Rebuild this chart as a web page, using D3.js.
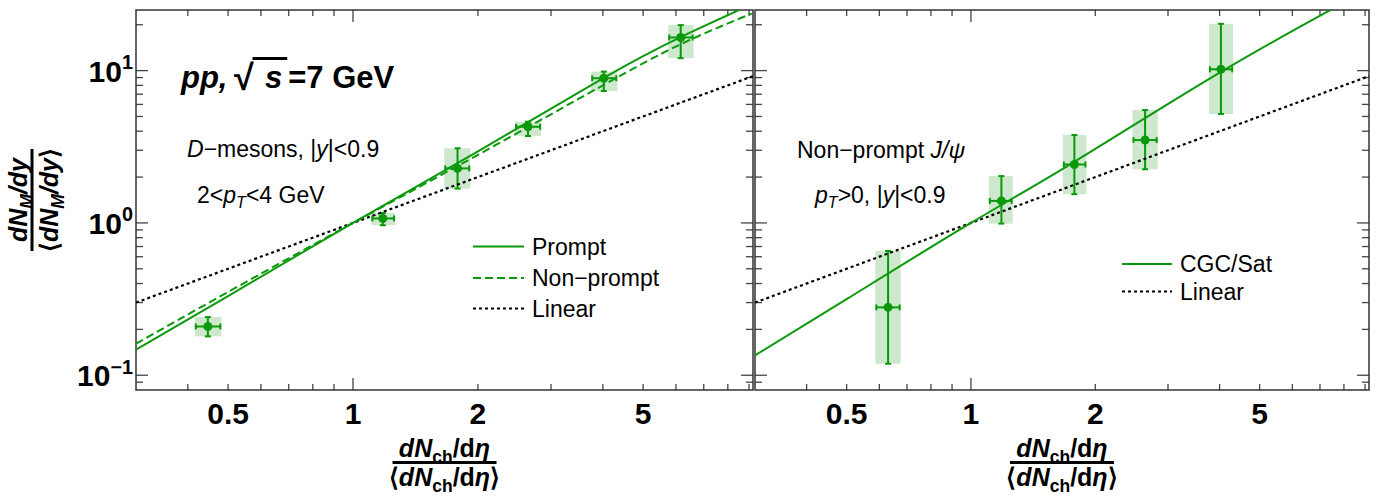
<!DOCTYPE html>
<html><head><meta charset="utf-8">
<script src="https://cdn.jsdelivr.net/npm/d3@7"></script>
<style>
body{margin:0;background:#fff}
text{font-family:"Liberation Sans",Arial,Helvetica,sans-serif;white-space:pre}
</style>
</head><body>
<svg id="c" width="1377" height="497"></svg>
<script>
// ---------- data ----------
const xDomain = [0.3, 9.2];
const yDomain = [0.08, 25];
const xTickLabels = [0.5, 1, 2, 5];
const yTickLabels = [0.1, 1, 10];

// Left panel: D-mesons
const dX    = [0.447, 1.18, 1.786, 2.64, 4.02, 6.16];
const dY    = [0.209, 1.07, 2.28, 4.28, 8.91, 16.5];
const dXlo  = [0.418, 1.113, 1.668, 2.47, 3.77, 5.78];
const dXhi  = [0.479, 1.256, 1.906, 2.825, 4.31, 6.58];
const dYlo  = [0.180, 0.966, 1.68, 3.72, 7.35, 12.07];
const dYhi  = [0.241, 1.164, 3.09, 4.62, 9.85, 19.9];

// Right panel: non-prompt J/psi
const jX    = [0.63, 1.185, 1.78, 2.64, 4.03];
const jY    = [0.279, 1.395, 2.42, 3.50, 10.2];
const jXlo  = [0.590, 1.111, 1.678, 2.475, 3.79];
const jXhi  = [0.672, 1.255, 1.893, 2.817, 4.29];
const jYlo  = [0.119, 0.99, 1.545, 2.25, 5.19];
const jYhi  = [0.654, 2.03, 3.78, 5.51, 20.3];

// Model curves
const promptX    = [0.3, 0.5, 1, 2, 4, 6.16, 9.2];
const promptY    = [0.147, 0.331, 1, 2.95, 8.9, 16.6, 27.5];
const nonpromptX = [0.3, 0.5, 1, 2, 4, 6.16, 9.2];
const nonpromptY = [0.161, 0.352, 1, 2.8, 8.0, 14.9, 23.9];
const cgcX       = [0.3, 0.5, 1, 1.78, 4.03, 7.64, 9.2];
const cgcY       = [0.135, 0.316, 1, 2.52, 9.8, 26.1, 34.7];
const linearX    = [0.3, 9.2];
const linearY    = [0.3, 9.2];

// ---------- drawing ----------
const GREEN = "#0a990a";
const BOX = "#cde8cd";
const svg = d3.select("#c");
const PT = 10, PB = 390;

function rich(sel, x, y, segs, base, anchor) {
  const t = sel.append("text").attr("x", x).attr("y", y)
    .attr("font-size", base).attr("text-anchor", anchor || "start");
  let cur = 0;
  segs.forEach(s => {
    const ts = t.append("tspan").text(s.t);
    if (s.i) ts.attr("font-style", "italic");
    if (s.b) ts.attr("font-weight", "bold");
    if (s.s) ts.attr("font-size", base * s.s);
    const sh = (s.sh || 0) * base;
    const dy = sh - cur;
    if (dy) ts.attr("dy", dy);
    cur = sh;
  });
  return t;
}

function panel(x0, x1, id, showY) {
  const x = d3.scaleLog().domain(xDomain).range([x0, x1]);
  const y = d3.scaleLog().domain(yDomain).range([PB, PT]);
  const g = svg.append("g");
  g.append("clipPath").attr("id", id).append("rect")
    .attr("x", x0).attr("y", PT).attr("width", x1 - x0).attr("height", PB - PT);

  const tk = g.append("g").attr("stroke", "#444").attr("stroke-width", 1.3);
  const xt = [];
  for (let d = 0.1; d <= 10; d *= 10) for (let k = 1; k <= 9; k++) {
    const v = +(k * d).toPrecision(3);
    if (v > xDomain[0] && v < xDomain[1]) xt.push([v, k === 1]);
  }
  xt.forEach(([v, maj]) => {
    const L = maj ? 12 : 6, px = x(v);
    tk.append("line").attr("x1", px).attr("x2", px).attr("y1", PB).attr("y2", PB - L);
    tk.append("line").attr("x1", px).attr("x2", px).attr("y1", PT).attr("y2", PT + L);
  });
  const yt = [];
  for (let d = 0.01; d <= 10; d *= 10) for (let k = 1; k <= 9; k++) {
    const v = +(k * d).toPrecision(3);
    if (v > yDomain[0] && v < yDomain[1]) yt.push([v, k === 1]);
  }
  yt.forEach(([v, maj]) => {
    const L = maj ? 12 : 7, py = y(v);
    tk.append("line").attr("x1", x0).attr("x2", x0 + L).attr("y1", py).attr("y2", py);
    tk.append("line").attr("x1", x1).attr("x2", x1 - L).attr("y1", py).attr("y2", py);
  });

  g.append("rect").attr("x", x0).attr("y", PT).attr("width", x1 - x0).attr("height", PB - PT)
    .attr("fill", "none").attr("stroke", "#333").attr("stroke-width", 1.5);

  xTickLabels.forEach(v => {
    g.append("text").attr("x", x(v)).attr("y", 424).attr("text-anchor", "middle")
      .attr("font-size", 30).attr("font-weight", "bold").text(v);
  });
  if (showY) {
    yTickLabels.forEach(v => {
      const e = Math.round(Math.log10(v));
      rich(g, 133, y(v) + 11, [
        {t: "10", b: true},
        {t: e < 0 ? "\u2212" + (-e) : "" + e, b: true, s: 0.66, sh: -0.42}
      ], 30, "end");
    });
  }
  return {x, y, g};
}

function curve(p, xs, ys, color, dash, id, w) {
  const line = d3.line().x(d => p.x(d[0])).y(d => p.y(d[1])).curve(d3.curveNatural);
  p.g.append("path").attr("d", line(xs.map((v, i) => [v, ys[i]])))
    .attr("fill", "none").attr("stroke", color).attr("stroke-width", w || 2)
    .attr("stroke-dasharray", dash).attr("clip-path", `url(#${id})`);
}

function points(p, X, Y, Xlo, Xhi, Ylo, Yhi) {
  const gp = p.g.append("g");
  X.forEach((v, i) => {
    const xl = p.x(Xlo[i]), xh = p.x(Xhi[i]), yl = p.y(Ylo[i]), yh = p.y(Yhi[i]);
    gp.append("rect").attr("x", xl - 1).attr("width", xh - xl + 2)
      .attr("y", yh).attr("height", yl - yh).attr("fill", BOX);
  });
  X.forEach((v, i) => {
    const cx = p.x(v), cy = p.y(Y[i]);
    const xl = p.x(Xlo[i]), xh = p.x(Xhi[i]), yl = p.y(Ylo[i]), yh = p.y(Yhi[i]);
    const s = gp.append("g").attr("stroke", GREEN).attr("stroke-width", 2);
    s.append("line").attr("x1", cx).attr("x2", cx).attr("y1", yl).attr("y2", yh);
    s.append("line").attr("x1", xl).attr("x2", xh).attr("y1", cy).attr("y2", cy);
    s.append("line").attr("x1", cx - 3).attr("x2", cx + 3).attr("y1", yl).attr("y2", yl);
    s.append("line").attr("x1", cx - 3).attr("x2", cx + 3).attr("y1", yh).attr("y2", yh);
    s.append("line").attr("x1", xl).attr("x2", xl).attr("y1", cy - 3).attr("y2", cy + 3);
    s.append("line").attr("x1", xh).attr("x2", xh).attr("y1", cy - 3).attr("y2", cy + 3);
    gp.append("circle").attr("cx", cx).attr("cy", cy).attr("r", 4.5).attr("fill", GREEN);
  });
}

function legendItem(g, x0, x1, y, color, dash, label, w) {
  g.append("line").attr("x1", x0).attr("x2", x1).attr("y1", y).attr("y2", y)
    .attr("stroke", color).attr("stroke-width", w || 2).attr("stroke-dasharray", dash);
  g.append("text").attr("x", x1 + 8).attr("y", y + 8).attr("font-size", 23).text(label);
}

function xLabel(cx) {
  rich(svg, cx, 457, [
    {t: "dN", b: true, i: true},
    {t: "ch", b: true, s: 0.7, sh: 0.22},
    {t: "/d", b: true},
    {t: "\u03B7", b: true, i: true}
  ], 25, "middle");
  svg.append("rect").attr("x", cx - 52).attr("y", 461).attr("width", 104).attr("height", 3).attr("fill", "#000");
  rich(svg, cx, 486, [
    {t: "\u27E8", b: true},
    {t: "dN", b: true, i: true},
    {t: "ch", b: true, s: 0.7, sh: 0.22},
    {t: "/d", b: true},
    {t: "\u03B7", b: true, i: true},
    {t: "\u27E9", b: true}
  ], 25, "middle");
}

// left panel
const L = panel(136, 753, "clipL", true);
points(L, dX, dY, dXlo, dXhi, dYlo, dYhi);
curve(L, linearX, linearY, "#000", "3,3", "clipL", 2.2);
curve(L, nonpromptX, nonpromptY, GREEN, "8,4", "clipL", 2);
curve(L, promptX, promptY, GREEN, null, "clipL", 2);
legendItem(L.g, 473, 524, 246.5, GREEN, null, "Prompt");
legendItem(L.g, 473, 524, 278, GREEN, "8,4", "Non\u2212prompt");
legendItem(L.g, 473, 524, 308.5, "#000", "3,3", "Linear", 2.2);

rich(L.g, 187, 157, [
  {t: "D", i: true}, {t: "\u2212mesons, |"}, {t: "y", i: true}, {t: "|<0.9"}
], 23);
rich(L.g, 197, 203, [
  {t: "2<"}, {t: "p", i: true}, {t: "T", i: true, s: 0.7, sh: 0.22}, {t: "<4 GeV"}
], 23);

(function () {
  const base = 87.5;
  L.g.append("text").attr("x", 181).attr("y", base).attr("font-size", 31)
    .attr("font-weight", "bold").attr("font-style", "italic").text("pp,");
  const rad = L.g.append("text").attr("x", 234).attr("y", base + 2).attr("font-size", 36)
    .attr("font-weight", "bold").attr("font-family", "DejaVu Sans").text("\u221A");
  const rb = rad.node().getBBox();
  const xs = rb.x + rb.width + 11;
  const ts = L.g.append("text").attr("x", xs).attr("y", base).attr("font-size", 31)
    .attr("font-weight", "bold").attr("font-style", "italic").text("s");
  const sw = ts.node().getComputedTextLength();
  L.g.append("line").attr("x1", rb.x + rb.width - 1.5).attr("x2", xs + sw + 5)
    .attr("y1", rb.y + 2).attr("y2", rb.y + 2).attr("stroke", "#000").attr("stroke-width", 3);
  L.g.append("text").attr("x", xs + sw + 6).attr("y", base).attr("font-size", 31)
    .attr("font-weight", "bold").text("=7 GeV");
})();

// right panel
const R = panel(755, 1369, "clipR", false);
points(R, jX, jY, jXlo, jXhi, jYlo, jYhi);
curve(R, linearX, linearY, "#000", "3,3", "clipR", 2.2);
curve(R, cgcX, cgcY, GREEN, null, "clipR", 2);
legendItem(R.g, 1122, 1172, 264, GREEN, null, "CGC/Sat");
legendItem(R.g, 1122, 1172, 291.5, "#000", "3,3", "Linear", 2.2);
rich(R.g, 797, 158, [
  {t: "Non\u2212prompt "}, {t: "J/\u03C8", i: true}
], 23);
rich(R.g, 815, 203, [
  {t: "p", i: true}, {t: "T", i: true, s: 0.7, sh: 0.22}, {t: ">0, |"}, {t: "y", i: true}, {t: "|<0.9"}
], 23);

xLabel(444.5);
xLabel(1062);

const yl = svg.append("g").attr("transform", "translate(0,200) rotate(-90)");
rich(yl, 0, 27, [
  {t: "dN", b: true, i: true},
  {t: "M", b: true, i: true, s: 0.7, sh: 0.22},
  {t: "/dy", b: true, i: true}
], 25, "middle");
yl.append("rect").attr("x", -51).attr("y", 30.5).attr("width", 102).attr("height", 3).attr("fill", "#000");
rich(yl, 0, 58, [
  {t: "\u27E8", b: true},
  {t: "dN", b: true, i: true},
  {t: "M", b: true, i: true, s: 0.7, sh: 0.22},
  {t: "/dy", b: true, i: true},
  {t: "\u27E9", b: true}
], 25, "middle");
</script>
</body></html>
